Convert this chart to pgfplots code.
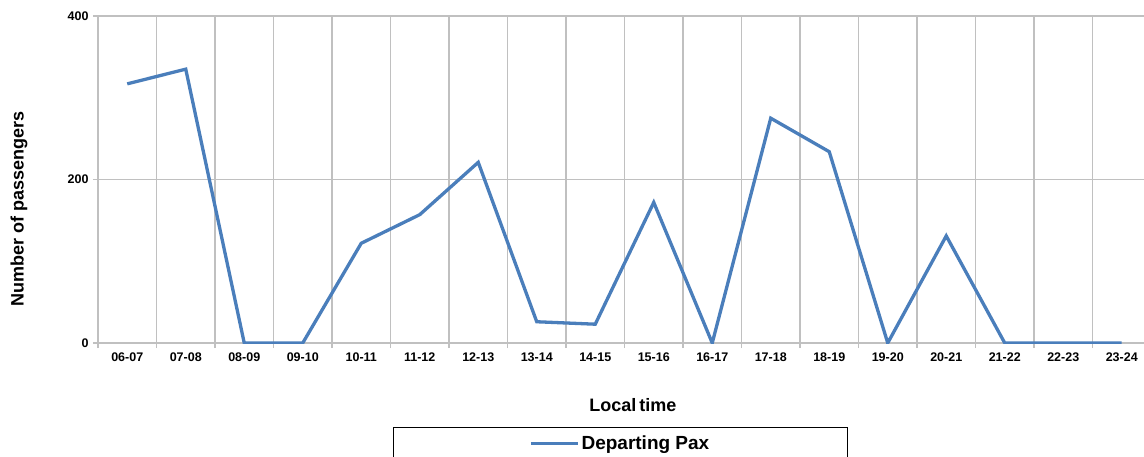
\documentclass[border=0pt]{standalone}
\usepackage{fontspec}
\setmainfont{Liberation Sans}
\usepackage{pgfplots}
\pgfplotsset{compat=1.18}
\definecolor{linblue}{HTML}{4A7EBB}
\definecolor{gridgray}{HTML}{C0C0C0}

\pgfplotstableread{
idx pax
0  317
1  335
2  0
3  0
4  122
5  157
6  221
7  26
8  23
9  172
10 0
11 275
12 234
13 0
14 131
15 0
16 0
17 0
}\departing

\begin{document}
\begin{tikzpicture}
\begin{axis}[
    at={(0,0)}, anchor=south west,
    scale only axis,
    width=1053pt, height=327pt,
    xmin=-0.5, xmax=17.5,
    ymin=0, ymax=400,
    axis line style={gridgray, line width=1.8pt},
    axis x line*=bottom,
    axis y line*=left,
    xtick={0,...,17},
    xticklabels={06-07,07-08,08-09,09-10,10-11,11-12,12-13,13-14,14-15,15-16,16-17,17-18,18-19,19-20,20-21,21-22,22-23,23-24},
    major x tick style={draw=none},
    minor xtick={-0.5,0.5,...,17.5},
    xminorgrids,
    minor grid style={gridgray, line width=1.8pt},
    minor tick length=5pt,
    minor x tick style={gridgray, line width=1.8pt},
    ytick={0,200,400},
    ymajorgrids,
    major grid style={gridgray, line width=1.8pt},
    major tick length=5pt,
    major y tick style={gridgray, line width=1.8pt},
    tick pos=left,
    tick align=outside,
    /pgf/number format/assume math mode=true,
    ticklabel style={font=\fontsize{12.5}{14}\selectfont\bfseries},
    xticklabel style={yshift=-1pt},
    yticklabel style={xshift=-1pt},
    xlabel={Local\,time},
    ylabel={Number of passengers},
    label style={font=\fontsize{18}{20}\selectfont\bfseries},
    xlabel style={at={(axis description cs:0.508,-0.19)}, anchor=center},
    ylabel style={at={(axis description cs:-0.075,0.41)}, anchor=center},
    legend style={at={(axis description cs:0.496,-0.257)}, anchor=north,
        draw=black, line width=1pt, inner xsep=136pt, inner ysep=6pt,
        font=\fontsize{19}{21}\selectfont\bfseries},
    legend cell align=left,
    legend image code/.code={\draw[#1] (0pt,0pt) -- (47pt,0pt);},
]
\addplot[linblue, line width=3.3pt, line join=miter] table[x=idx, y=pax] {\departing};
\addlegendentry{Departing Pax}
\end{axis}
\pgfresetboundingbox
\useasboundingbox (-98pt,-113pt) rectangle (1046pt,343pt);
\end{tikzpicture}
\end{document}
